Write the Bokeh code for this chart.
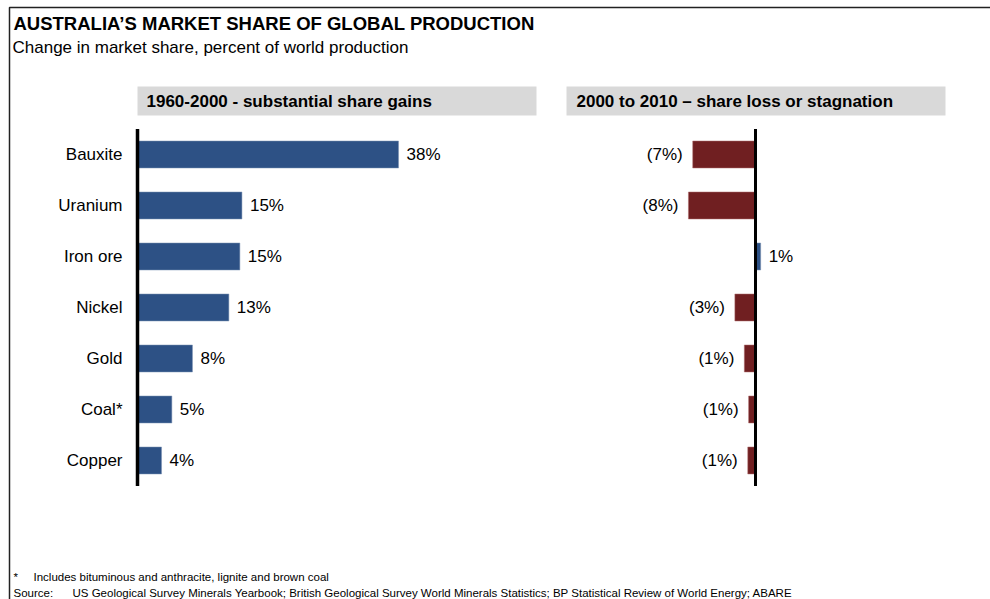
from bokeh.plotting import figure
from bokeh.models import Range1d, ColumnDataSource
from bokeh.core.properties import value
from bokeh.embed import file_html
from bokeh.resources import INLINE

# ---------------- data ----------------
categories = ["Bauxite", "Uranium", "Iron ore", "Nickel", "Gold", "Coal*", "Copper"]
gain_1960_2000 = [38.0, 15.2, 14.9, 13.3, 8.0, 5.0, 3.5]
gain_labels = ["38%", "15%", "15%", "13%", "8%", "5%", "4%"]
change_2000_2010 = [-7.3, -7.8, 0.6, -2.4, -1.3, -0.8, -0.9]
change_labels = ["(7%)", "(8%)", "1%", "(3%)", "(1%)", "(1%)", "(1%)"]

title = "AUSTRALIA\u2019S MARKET SHARE OF GLOBAL PRODUCTION"
subtitle = "Change in market share, percent of world production"
panel_titles = ["1960-2000 - substantial share gains", "2000 to 2010 \u2013 share loss or stagnation"]
footnote = "Includes bituminous and anthracite, lignite and brown coal"
source_label = "Source:"
source_text = "US Geological Survey Minerals Yearbook; British Geological Survey World Minerals Statistics; BP Statistical Review of World Energy; ABARE"

# ---------------- layout constants ----------------
W, H = 990, 599
FONT = value("Liberation Sans")
BLUE = "#2d5185"
RED = "#701f21"
GREY = "#d9d9d9"

left_zero, left_ppu = 137, 6.87     # pixel of 0%, pixels per percent (left panel)
right_zero, right_ppu = 755, 8.6    # right panel
row0, row_step = 154, 51            # pixel centre of first row, row spacing

rows = list(range(len(categories)))

p = figure(width=W, height=H, x_range=Range1d(0, W),
           y_range=Range1d((H - row0) / row_step, -row0 / row_step),
           x_axis_type=None, y_axis_type=None,
           toolbar_location=None, output_backend="svg", min_border=0)
p.min_border_left = p.min_border_right = p.min_border_top = p.min_border_bottom = 0
p.outline_line_color = None
p.grid.visible = False
p.background_fill_color = "white"
p.border_fill_color = "white"

p.extra_x_ranges = {
    "left": Range1d(-left_zero / left_ppu, (W - left_zero) / left_ppu),
    "right": Range1d(-right_zero / right_ppu, (W - right_zero) / right_ppu),
}
p.extra_y_ranges = {"px": Range1d(H, 0)}

# frame lines (top & left)
p.line(x=[9, 9, W], y=[H, 7, 7], y_range_name="px", line_color="#222222", line_width=1.5)

# header boxes
p.quad(left=[137, 566], right=[536, 945], top=[86, 86], bottom=[115, 115],
       y_range_name="px", fill_color=GREY, line_color=None)
p.text(x=[146, 576], y=[101, 101], text=panel_titles, y_range_name="px",
       text_font=FONT, text_font_style="bold", text_font_size="17px",
       text_baseline="middle", text_align="left", text_color="black")

# titles
p.text(x=[13], y=[23], text=[title], y_range_name="px", text_font=FONT,
       text_font_style="bold", text_font_size="18.5px", text_baseline="middle", text_color="black")
p.text(x=[12], y=[47], text=[subtitle], y_range_name="px", text_font=FONT,
       text_font_size="17px", text_baseline="middle", text_color="black")

# footnotes
p.text(x=[13, 33], y=[576, 576], text=["*", footnote], y_range_name="px", text_font=FONT,
       text_font_size="11.5px", text_baseline="middle", text_color="black")
p.text(x=[13, 72], y=[592.5, 592.5], text=[source_label, source_text], y_range_name="px", text_font=FONT,
       text_font_size="11.5px", text_baseline="middle", text_color="black")

# ---------------- left panel ----------------
src_l = ColumnDataSource(dict(y=rows, v=gain_1960_2000, lab=gain_labels, cat=categories))
p.hbar(y="y", left=0, right="v", height=0.53, source=src_l, x_range_name="left",
       fill_color=BLUE, line_color="#7f95b5", line_width=0.5)
p.text(x="v", y="y", text="lab", source=src_l, x_range_name="left", x_offset=8,
       text_font=FONT, text_font_size="17px", text_baseline="middle", text_align="left", text_color="black")
p.text(x=0, y="y", text="cat", source=src_l, x_range_name="left", x_offset=-15,
       text_font=FONT, text_font_size="17px", text_baseline="middle", text_align="right", text_color="black")
p.segment(x0=[0], y0=[-0.5], x1=[0], y1=[len(categories) - 0.5], x_range_name="left",
          line_color="black", line_width=3.5)

# ---------------- right panel ----------------
neg = [v < 0 for v in change_2000_2010]
src_r = ColumnDataSource(dict(
    y=rows, v=change_2000_2010, lab=change_labels,
    color=[RED if n else BLUE for n in neg],
    edge=["#b07070" if n else "#7f95b5" for n in neg],
))
p.hbar(y="y", left=0, right="v", height=0.53, source=src_r, x_range_name="right",
       fill_color="color", line_color="edge", line_width=0.5)
src_rn = ColumnDataSource(dict(y=[r for r, n in zip(rows, neg) if n],
                               v=[v for v, n in zip(change_2000_2010, neg) if n],
                               lab=[l for l, n in zip(change_labels, neg) if n]))
src_rp = ColumnDataSource(dict(y=[r for r, n in zip(rows, neg) if not n],
                               v=[v for v, n in zip(change_2000_2010, neg) if not n],
                               lab=[l for l, n in zip(change_labels, neg) if not n]))
p.text(x="v", y="y", text="lab", source=src_rn, x_range_name="right", x_offset=-10,
       text_font=FONT, text_font_size="17px", text_baseline="middle", text_align="right", text_color="black")
p.text(x="v", y="y", text="lab", source=src_rp, x_range_name="right", x_offset=8,
       text_font=FONT, text_font_size="17px", text_baseline="middle", text_align="left", text_color="black")
p.segment(x0=[0], y0=[-0.5], x1=[0], y1=[len(categories) - 0.5], x_range_name="right",
          line_color="black", line_width=3)

open("out.html", "w").write(file_html(p, INLINE))
